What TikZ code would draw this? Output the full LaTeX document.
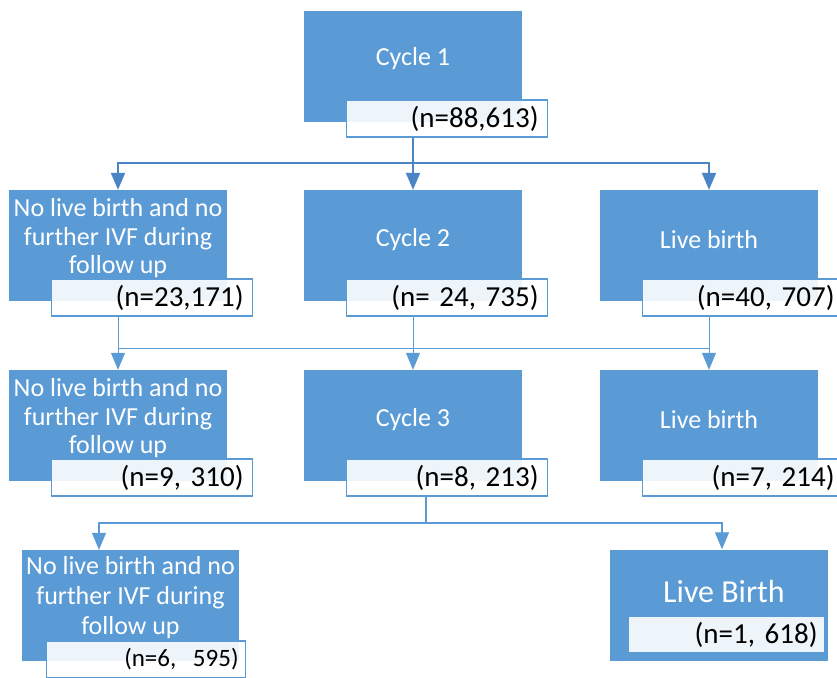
\documentclass[tikz,border=0pt]{standalone}
\usepackage{fontspec}
\setmainfont{Carlito}
\usetikzlibrary{arrows.meta,positioning}
\definecolor{boxblue}{HTML}{5B9BD5}
\definecolor{linkblue}{HTML}{4A84C4}

\begin{document}
\begin{tikzpicture}[x=1pt,y=-1pt,
    block/.style={fill=boxblue,minimum width=218pt,minimum height=111pt,inner sep=0pt},
    blocktext/.style={text=white,font=\fontsize{26}{28.5}\selectfont,align=center,inner sep=0pt},
    count/.style={draw=boxblue,line width=1.6pt,fill=white,fill opacity=0.9,text opacity=1,
      text width=183pt,align=right,inner xsep=9pt,inner ysep=0pt,minimum height=37pt,
      anchor=north west,font=\fontsize{29}{31}\selectfont},
    link/.style={draw=boxblue,line width=1pt},
    flow/.style={link,-{Triangle[length=17pt,width=14pt]}},
    mainflow/.style={flow,draw=linkblue,line width=2pt}]
      \useasboundingbox (0,0) rectangle (837,677);
      % cycle 1
      \node[block] (c1) at (413,66.5) {};
      \node[blocktext] (c1t) at ([yshift=8pt]c1.center) {Cycle 1};
      \node[count] (c1n) at ([xshift=42pt,yshift=23pt]c1.south west) {(n=88,613)};
      % row 2
      \node[block] (nb2) at (118,245.5) {};
      \node[blocktext] (nb2t) at ([yshift=7pt]nb2.center) {No live birth and no\\further IVF during\\follow up};
      \node[count] (nb2n) at ([xshift=42pt,yshift=23pt]nb2.south west) {(n=23,171)};
      \node[block] (c2) at (413,245.5) {};
      \node[blocktext] (c2t) at ([yshift=6pt]c2.center) {Cycle 2};
      \node[count] (c2n) at ([xshift=42pt,yshift=23pt]c2.south west) {(n= 24, 735)};
      \node[block] (lb2) at (709,245.5) {};
      \node[blocktext] (lb2t) at ([yshift=6pt]lb2.center) {Live birth};
      \node[count] (lb2n) at ([xshift=42pt,yshift=23pt]lb2.south west) {(n=40, 707)};
      % row 3
      \node[block] (nb3) at (118,425.5) {};
      \node[blocktext] (nb3t) at ([yshift=7pt]nb3.center) {No live birth and no\\further IVF during\\follow up};
      \node[count] (nb3n) at ([xshift=42pt,yshift=23pt]nb3.south west) {(n=9, 310)};
      \node[block] (c3) at (413,425.5) {};
      \node[blocktext] (c3t) at ([yshift=6pt]c3.center) {Cycle 3};
      \node[count] (c3n) at ([xshift=42pt,yshift=23pt]c3.south west) {(n=8, 213)};
      \node[block] (lb3) at (709,425.5) {};
      \node[blocktext] (lb3t) at ([yshift=6pt]lb3.center) {Live birth};
      \node[count] (lb3n) at ([xshift=42pt,yshift=23pt]lb3.south west) {(n=7, 214)};
      % row 4
      \node[block,minimum width=217pt] (nb4) at (130.5,605.5) {};
      \node[blocktext,font=\fontsize{26}{30}\selectfont] (nb4t) at ([yshift=7.5pt]nb4.center) {No live birth and no\\further IVF during\\follow up};
      \node[count,text width=185pt,inner xsep=7pt,font=\fontsize{25}{28}\selectfont] (nb4n) at ([xshift=24pt,yshift=21pt]nb4.south west) {(n=6,\ \ 595)};
      \node[block] (lbf) at (719,605) {};
      \node[blocktext,font=\fontsize{32}{34}\selectfont] (lbft) at ([xshift=5pt,yshift=14pt]lbf.center) {Live Birth};
      \node[count,draw=none,text width=183pt,inner xsep=6pt,minimum height=35pt,anchor=south west] (lbfn) at ([xshift=18pt,yshift=8pt]lbf.south west) {(n=1, 618)};
      % connectors
      \coordinate (j1) at (413,163);
      \coordinate (j2) at (413,348);
      \coordinate (j3) at (426,523);
      \draw[mainflow,-] (c1n.south -| c1) -- (j1);
      \draw[mainflow] (j1) -| (nb2.north);
      \draw[mainflow] (j1) -- (c2.north);
      \draw[mainflow] (j1) -| (lb2.north);
      \draw[flow] (nb2n.south -| nb2) -- (nb3.north);
      \draw[flow] (c2n.south -| c2) -- (c3.north);
      \draw[flow] (lb2n.south -| lb2) -- (lb3.north);
      \draw[link] (j2 -| nb2) -- (j2 -| lb2);
      \draw[link,line width=1.3pt] (c3n.south -| j3) -- (j3);
      \draw[flow,line width=1.3pt] (j3) -| ([xshift=-31.5pt]nb4.north);
      \draw[flow,line width=1.3pt] (j3) -| ([xshift=3pt]lbf.north);
\end{tikzpicture}
\end{document}
